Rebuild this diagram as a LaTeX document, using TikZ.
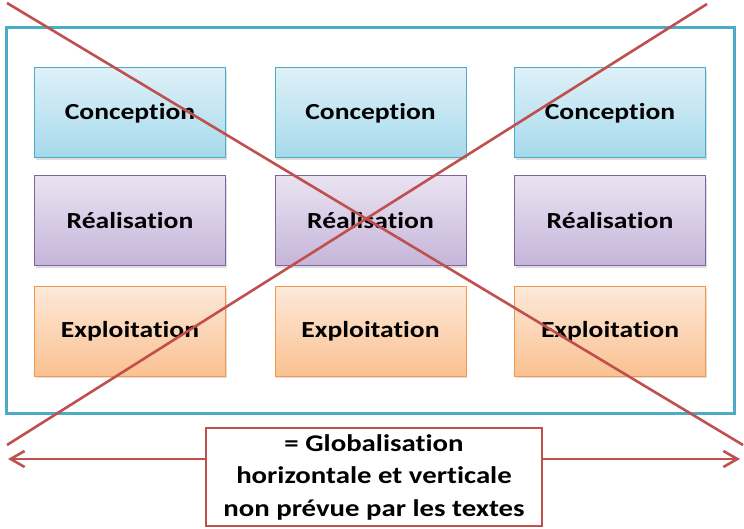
\documentclass[tikz,border=0pt]{standalone}
\usepackage{fontspec}
\setmainfont{Carlito}[Ligatures={NoCommon},FakeStretch=1.2]
\usetikzlibrary{arrows.meta,shadows}
\definecolor{teal1}{HTML}{4BACC6}
\definecolor{redx}{HTML}{C0504D}
\definecolor{blueT}{HTML}{DEF1F8}\definecolor{blueB}{HTML}{A6D9EB}\definecolor{blueD}{HTML}{4BACC6}
\definecolor{purT}{HTML}{EAE3F1}\definecolor{purB}{HTML}{C5B5DA}\definecolor{purD}{HTML}{8064A2}
\definecolor{oraT}{HTML}{FDE9D9}\definecolor{oraB}{HTML}{FAC191}\definecolor{oraD}{HTML}{F79646}
\tikzset{
  x=1pt,y=1pt,
  card/.style={minimum width=191pt,minimum height=90pt,inner sep=0pt,
    font=\fontsize{23}{26}\selectfont\bfseries,
    drop shadow={shadow xshift=1pt,shadow yshift=-2pt,opacity=0.25}},
  cardC/.style={card,draw=blueD,line width=1pt,top color=blueT,bottom color=blueB},
  cardR/.style={card,draw=purD,line width=1pt,top color=purT,bottom color=purB},
  cardE/.style={card,draw=oraD,line width=1pt,top color=oraT,bottom color=oraB},
  cross/.style={draw=redx,line width=2.6pt},
  frame/.style={draw=teal1,line width=3pt},
  note/.style={draw=redx,line width=2.6pt,fill=white,minimum width=336pt,minimum height=98pt,
    align=center,font=\fontsize{24}{32.5}\selectfont\bfseries,inner sep=0pt},
  arr/.style={draw=redx,line width=2.6pt,-{Straight Barb[length=14pt,width=16pt,line width=2.6pt]}}
}
\begin{document}
\begin{tikzpicture}
\useasboundingbox (0,0) rectangle (744,529);
% outer frame
\node[frame,minimum width=728pt,minimum height=386pt,inner sep=0pt] (frame) at (370.5,308) {};
% cards
\node[cardC] (c1) at (130,416) {Conception};
\node[cardC] (c2) at (370.5,416) {Conception};
\node[cardC] (c3) at (610,416) {Conception};
\node[cardR] (r1) at (130,308) {Réalisation};
\node[cardR] (r2) at (370.5,308) {Réalisation};
\node[cardR] (r3) at (610,308) {Réalisation};
\node[cardE] (e1) at (130,197.5) {Exploitation};
\node[cardE] (e2) at (370.5,197.5) {Exploitation};
\node[cardE] (e3) at (610,197.5) {Exploitation};
% note and arrows
\node[note] (note) at (374,52) {= Globalisation\\horizontale et verticale\\non prévue par les textes};
\coordinate (aL) at (8,70);
\coordinate (aR) at (740,70);
\draw[arr] (note.west |- aL) -- (aL);
\draw[arr] (note.east |- aR) -- (aR);
% cross
\coordinate (x1) at (7,526);
\coordinate (x2) at (743,84);
\coordinate (x3) at (707,525);
\coordinate (x4) at (7,84);
\draw[cross] (x1) -- (x2);
\draw[cross] (x3) -- (x4);
\end{tikzpicture}
\end{document}
